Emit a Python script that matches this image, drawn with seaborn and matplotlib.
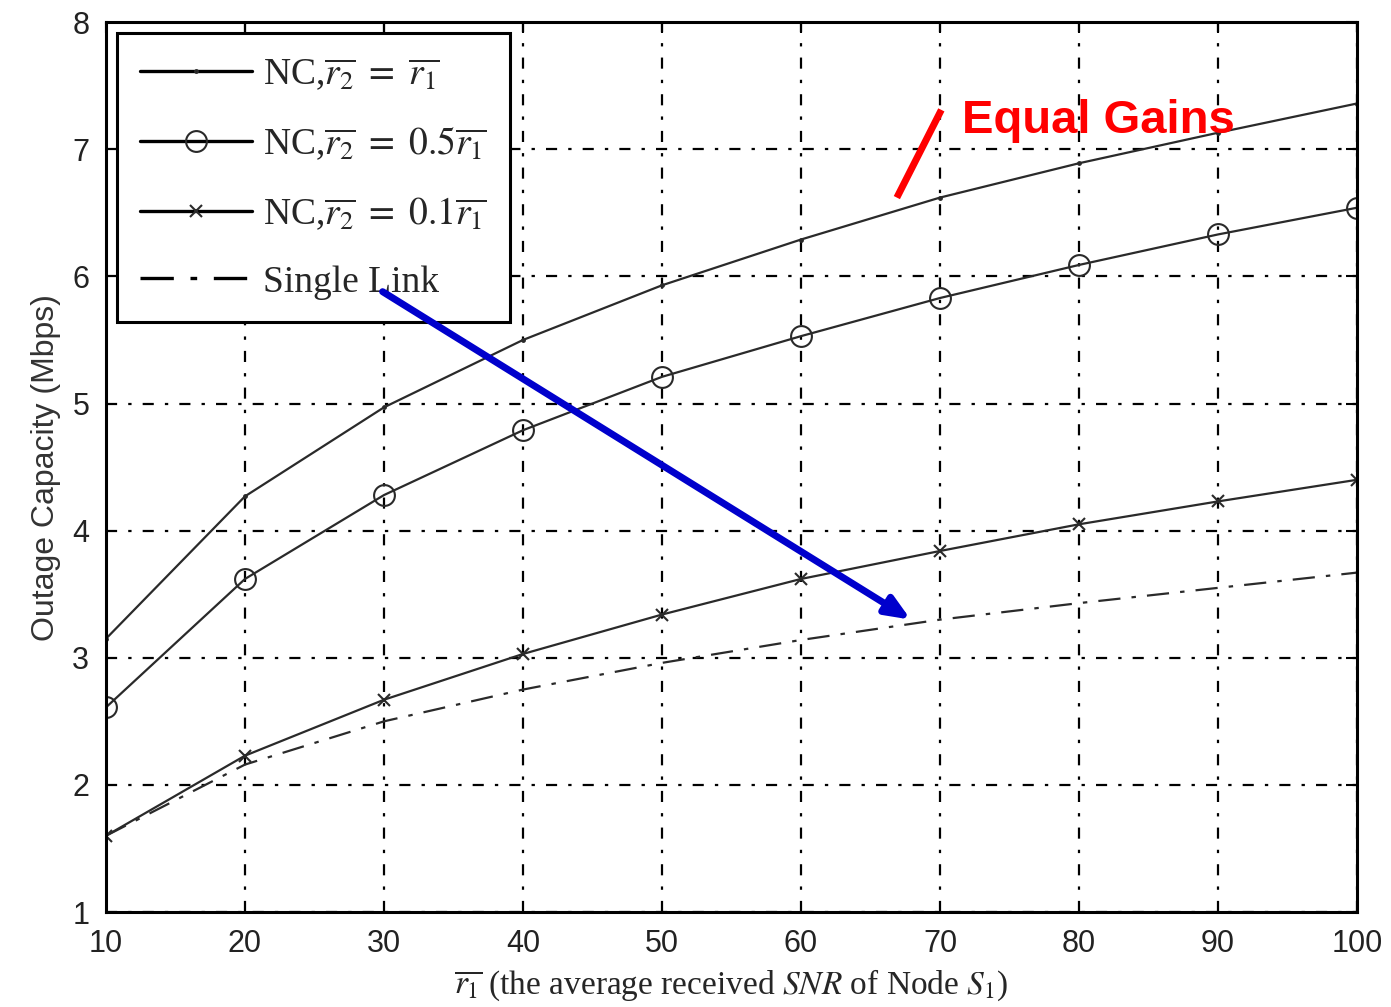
import numpy as np
import pandas as pd
import matplotlib
matplotlib.use("Agg")
import matplotlib.pyplot as plt
import seaborn as sns

# Average received SNR of node S1
snr = [10, 20, 30, 40, 50, 60, 70, 80, 90, 100]

# Outage capacity (Mbps) for each scheme
nc_equal = [3.15, 4.27, 4.97, 5.50, 5.93, 6.29, 6.62, 6.89, 7.13, 7.36]
nc_half = [2.61, 3.62, 4.28, 4.79, 5.21, 5.53, 5.83, 6.09, 6.33, 6.54]
nc_tenth = [1.60, 2.23, 2.67, 3.03, 3.34, 3.62, 3.84, 4.05, 4.23, 4.40]
single_link = [1.60, 2.16, 2.50, 2.75, 2.96, 3.14, 3.30, 3.43, 3.55, 3.67]

labels = [r"NC,$\overline{r_2}\ =\ \overline{r_1}$",
          r"NC,$\overline{r_2}\ =\ 0.5\overline{r_1}$",
          r"NC,$\overline{r_2}\ =\ 0.1\overline{r_1}$",
          "Single Link"]

x_ticks = [10, 20, 30, 40, 50, 60, 70, 80, 90, 100]
y_ticks = [1, 2, 3, 4, 5, 6, 7, 8]

sns.set_theme(style="white")
plt.rcParams["font.family"] = ["Liberation Sans", "DejaVu Sans"]
plt.rcParams["mathtext.fontset"] = "stix"

fig = plt.figure(figsize=(13.91, 10.07), dpi=100)
ax = fig.add_axes([0.0762, 0.0943, 0.8993, 0.8837])

styles = [
    dict(marker=".", markersize=4, linestyle="-"),
    dict(marker="o", markersize=15, linestyle="-", markerfacecolor="none"),
    dict(marker="x", markersize=8, linestyle="-"),
    dict(marker=None, linestyle=(0, (10, 5, 2, 5))),
]
series = [nc_equal, nc_half, nc_tenth, single_link]
line_color = "#2a2a2a"
for vals, lab, st in zip(series, labels, styles):
    df = pd.DataFrame({"snr": snr, "cap": vals})
    sns.lineplot(data=df, x="snr", y="cap", ax=ax, color=line_color,
                 linewidth=1.6, label=lab, markeredgecolor=line_color,
                 markeredgewidth=1.5, **st)

ax.set_xlim(10, 100)
ax.set_ylim(1, 8)
ax.set_xticks(x_ticks)
ax.set_yticks(y_ticks)
ax.tick_params(axis="both", which="both", direction="in", length=8, width=1.5,
               top=True, right=True, labelsize=22, colors="black", pad=12)
for lbl in ax.get_xticklabels() + ax.get_yticklabels():
    lbl.set_color("#222222")
for sp in ax.spines.values():
    sp.set_visible(True)
    sp.set_color("black")
    sp.set_linewidth(2.2)
ax.grid(True, color="black", linestyle=(0, (5, 5, 1.5, 5)), linewidth=1.6)

ax.set_xlabel(r"$\overline{r_1}$ (the average received $SNR$ of Node $S_1$)",
              fontsize=24, family=["Liberation Serif"], labelpad=6)
ax.set_ylabel("Outage Capacity (Mbps)", fontsize=23, color="#333333", labelpad=8)

leg = ax.legend(loc="upper left", bbox_to_anchor=(0.0, 1.0),
                frameon=True, fancybox=False, edgecolor="black", framealpha=1,
                handlelength=3.0, handletextpad=0.3, borderpad=0.6,
                labelspacing=0.88, borderaxespad=0.3,
                prop={"family": "Liberation Serif", "size": 27})
leg.get_frame().set_linewidth(2.2)
leg.set_zorder(5)
for h in leg.get_lines():
    h.set_color("black")
    h.set_linewidth(2.4)

# Red callout for the equal-gain curve
ax.plot([70.1, 66.9], [7.31, 6.62], color="#ff0000", linewidth=5,
        solid_capstyle="butt", zorder=6)
ax.text(71.6, 7.22, "Equal Gains", color="#ff0000", fontsize=34,
        fontweight="bold", va="center", ha="left", family="Liberation Sans",
        zorder=6)

# Blue arrow pointing towards the single-link curve
ax.annotate("", xy=(67.9, 3.30), xytext=(29.9, 5.88), zorder=7,
            arrowprops=dict(arrowstyle="-|>,head_length=1.2,head_width=0.5",
                            color="#0000cc", linewidth=5, shrinkA=0, shrinkB=0))

fig.savefig("out.png", dpi=100)
